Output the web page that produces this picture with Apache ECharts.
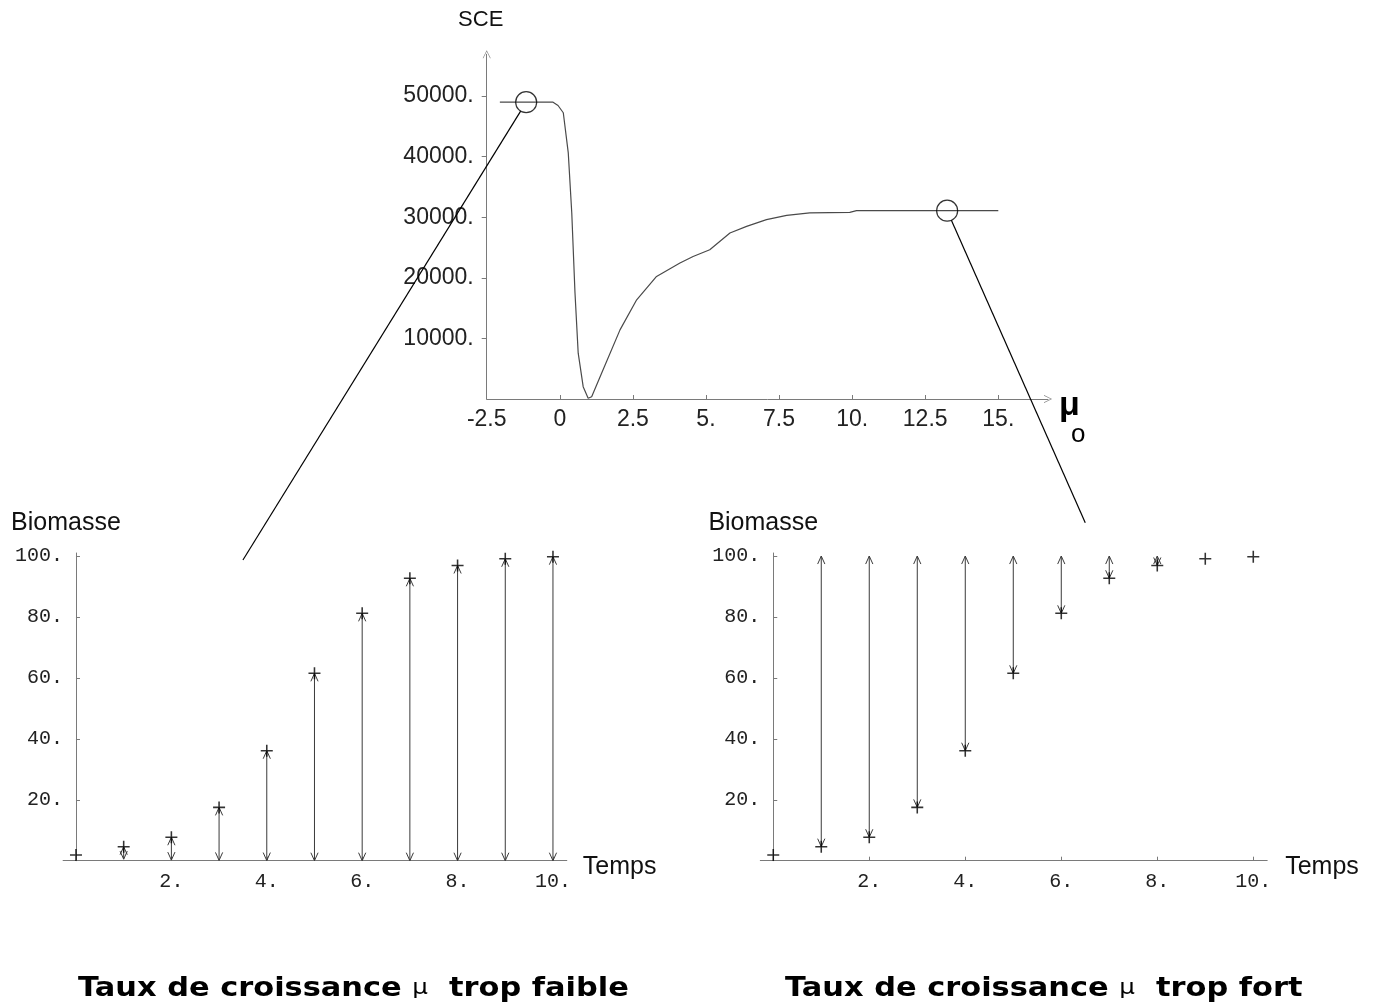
<!DOCTYPE html>
<html><head><meta charset="utf-8">
<script src="https://cdn.jsdelivr.net/npm/echarts@6/dist/echarts.min.js"></script>
<style>html,body{margin:0;padding:0;background:#fff}#c{width:1378px;height:1007px}</style>
</head><body><div id="c"></div>
<script>
// ---- Top chart: SCE as a function of mu0 ----
const muValues  = [-2.05, -1.0, -0.23, -0.06, 0.12, 0.29, 0.41, 0.52, 0.63, 0.80, 0.97, 1.09, 1.43, 2.06, 2.63, 3.31, 4.11, 4.56, 5.13, 5.82, 6.39, 7.07, 7.76, 8.55, 9.92, 10.15, 15.0];
const sceValues = [49000, 49000, 49000, 48450, 47250, 40630, 30710, 17530, 7560, 2030, 120, 380, 4250, 11410, 16370, 20230, 22440, 23530, 24640, 27400, 28490, 29600, 30310, 30710, 30810, 31090, 31090];
const circleMu  = [-1.15, 13.25];
const circleSce = [49000, 31090];
const muTicks = [-2.5, 0, 2.5, 5, 7.5, 10, 12.5, 15];
const muTickLabels = ['-2.5', '0', '2.5', '5.', '7.5', '10.', '12.5', '15.'];
const sceTicks = [10000, 20000, 30000, 40000, 50000];
const sceTickLabels = ['10000.', '20000.', '30000.', '40000.', '50000.'];

// ---- Bottom charts: biomass vs time ----
const times     = [0, 1, 2, 3, 4, 5, 6, 7, 8, 9, 10];
const observed  = [1.9, 4.6, 7.7, 17.5, 36.1, 61.5, 81.2, 92.7, 96.9, 99.1, 99.8];
const modelLow  = [1.9, 0.5, 0.2, 0.1, 0.05, 0, 0, 0, 0, 0, 0];
const modelHigh = [1.9, 100, 100, 100, 100, 100, 100, 100, 100, 100, 100];
const timeTicks = [2, 4, 6, 8, 10];
const timeTickLabels = ['2.', '4.', '6.', '8.', '10.'];
const bioTicks = [20, 40, 60, 80, 100];
const bioTickLabels = ['20.', '40.', '60.', '80.', '100.'];

// connector end points (in the bottom charts' coordinates)
const linkEndT = [3.5, 6.5];
const linkEndB = [98.7, 110.9];

function labelFor(ticks, labels) {
  return function (v) {
    for (let i = 0; i < ticks.length; i++) if (Math.abs(ticks[i] - v) < 1e-6) return labels[i];
    return '';
  };
}

const AX = '#7a7a7a';
const chev = 'path://M0,10 L5,0 L10,10 L9.2,10 L5,1.6 L0.8,10 Z';
const plusSym = 'path://M4.35,0 H5.65 V4.35 H10 V5.65 H5.65 V10 H4.35 V5.65 H0 V4.35 H4.35 Z';

const chart = echarts.init(document.getElementById('c'), null, {renderer: 'canvas'});

function bottomX(idx) {
  return {
    type: 'value', gridIndex: idx, min: -0.27, max: 10.29,
    name: 'Temps', nameLocation: 'end', nameGap: idx === 1 ? 16 : 18,
    nameTextStyle: {fontFamily: 'Liberation Sans', fontSize: 25, color: '#111', verticalAlign: 'top', lineHeight: 12},
    axisLine: {show: true, onZero: true, lineStyle: {color: AX, width: 1}},
    axisTick: {show: true, inside: true, length: 4, customValues: timeTicks, lineStyle: {color: AX}},
    axisLabel: {show: true, customValues: timeTicks, formatter: labelFor(timeTicks, timeTickLabels), margin: 11,
      fontFamily: 'Liberation Mono', fontSize: 20, color: '#222'},
    splitLine: {show: false}
  };
}
function bottomY(idx) {
  return {
    type: 'value', gridIndex: idx, min: 0, max: 101,
    name: 'Biomasse', nameLocation: 'end', nameGap: 17,
    nameTextStyle: {fontFamily: 'Liberation Sans', fontSize: 25, color: '#111', padding: [0, 20, 0, 0]},
    axisLine: {show: true, onZero: true, lineStyle: {color: AX, width: 1}},
    axisTick: {show: true, inside: true, length: 4, customValues: bioTicks, lineStyle: {color: AX}},
    axisLabel: {show: true, customValues: bioTicks, formatter: labelFor(bioTicks, bioTickLabels), margin: 0,
      fontFamily: 'Liberation Mono', fontSize: 20, color: '#222'},
    splitLine: {show: false}
  };
}

function arrowItem(params, api) {
  const t = api.value(0), a = api.value(1), b = api.value(2);
  const p1 = api.coord([t, a]);
  const p2 = api.coord([t, b]);
  const len = Math.abs(p2[1] - p1[1]);
  if (len < 5) return {type: 'group', children: []};
  const dir = p2[1] > p1[1] ? 1 : -1;
  const hl = 8, hw = 3.6;
  const st = {stroke: '#3a3a3a', lineWidth: 1, fill: null};
  return {
    type: 'group',
    children: [
      {type: 'line', shape: {x1: p1[0], y1: p1[1], x2: p2[0], y2: p2[1]}, style: st},
      {type: 'polyline', shape: {points: [[p2[0] - hw, p2[1] - dir * hl], [p2[0], p2[1]], [p2[0] + hw, p2[1] - dir * hl]]}, style: st},
      {type: 'polyline', shape: {points: [[p1[0] - hw, p1[1] + dir * hl], [p1[0], p1[1]], [p1[0] + hw, p1[1] + dir * hl]]}, style: st}
    ]
  };
}

const captionRich = {
  b: {fontFamily: 'DejaVu Sans', fontWeight: 'bold', fontSize: 26, fill: '#000'},
  m: {fontFamily: 'DejaVu Sans', fontSize: 21, fill: '#000'}
};

const option = {
  backgroundColor: '#fff',
  animation: false,
  grid: [
    {left: 486.7, top: 54.3, width: 561.3, height: 344.7},
    {left: 63.1, top: 553, width: 503.7, height: 307.7},
    {left: 760.3, top: 553, width: 506.9, height: 307.7}
  ],
  xAxis: [
    {
      type: 'value', gridIndex: 0, min: -2.5, max: 16.7,
      name: '{a|μ}\n{b|o}', nameLocation: 'end', nameGap: 11,
      nameTextStyle: {align: 'left', verticalAlign: 'middle', padding: [36, 0, 0, 0],
        rich: {a: {fontFamily: 'Liberation Sans', fontSize: 34, fontWeight: 'bold', color: '#000', lineHeight: 30},
               b: {fontFamily: 'Liberation Sans', fontSize: 26, color: '#000', lineHeight: 22, padding: [6, 0, 0, 12]}}},
      axisLine: {show: true, onZero: false, lineStyle: {color: AX, width: 1}, symbol: ['none', chev], symbolSize: [9, 8]},
      axisTick: {show: true, inside: true, length: 4, customValues: muTicks, lineStyle: {color: AX}},
      axisLabel: {show: true, customValues: muTicks, formatter: labelFor(muTicks, muTickLabels), margin: 9,
        fontFamily: 'Liberation Sans', fontSize: 23, color: '#222'},
      splitLine: {show: false}
    },
    bottomX(1), bottomX(2)
  ],
  yAxis: [
    {
      type: 'value', gridIndex: 0, min: 0, max: 56900,
      name: 'SCE', nameLocation: 'end', nameGap: 23,
      nameTextStyle: {fontFamily: 'Liberation Sans', fontSize: 22, color: '#111', padding: [0, 12, 0, 0]},
      axisLine: {show: true, onZero: false, lineStyle: {color: AX, width: 1}, symbol: ['none', chev], symbolSize: [9, 8]},
      axisTick: {show: true, inside: false, length: 5, customValues: sceTicks, lineStyle: {color: AX}},
      axisLabel: {show: true, customValues: sceTicks, formatter: labelFor(sceTicks, sceTickLabels), margin: 13,
        fontFamily: 'Liberation Sans', fontSize: 23, color: '#222'},
      splitLine: {show: false}
    },
    bottomY(1), bottomY(2)
  ],
  series: [
    {
      type: 'line', xAxisIndex: 0, yAxisIndex: 0, showSymbol: false, symbol: 'none',
      data: muValues.map((m, i) => [m, sceValues[i]]),
      lineStyle: {color: '#4a4a4a', width: 1.2}, z: 2
    },
    {
      type: 'scatter', xAxisIndex: 0, yAxisIndex: 0, symbol: 'circle', symbolSize: 21,
      data: circleMu.map((m, i) => [m, circleSce[i]]),
      itemStyle: {color: 'rgba(0,0,0,0)', borderColor: '#000', borderWidth: 1.2}, z: 3
    },
    {
      type: 'custom', xAxisIndex: 1, yAxisIndex: 1, renderItem: arrowItem,
      encode: {x: 0, y: [1, 2]},
      data: times.map((t, i) => [t, modelLow[i], observed[i]]), z: 2
    },
    {
      type: 'scatter', xAxisIndex: 1, yAxisIndex: 1, symbol: plusSym, symbolSize: 12,
      data: times.map((t, i) => [t, observed[i]]), itemStyle: {color: '#000'}, z: 3
    },
    {
      type: 'custom', xAxisIndex: 2, yAxisIndex: 2, renderItem: arrowItem,
      encode: {x: 0, y: [1, 2]},
      data: times.map((t, i) => [t, modelHigh[i], observed[i]]), z: 2
    },
    {
      type: 'scatter', xAxisIndex: 2, yAxisIndex: 2, symbol: plusSym, symbolSize: 12,
      data: times.map((t, i) => [t, observed[i]]), itemStyle: {color: '#000'}, z: 3
    }
  ],
  graphic: [
    {type: 'text', x: 78, y: 976, scaleX: 1.17, z: 10,
      style: {text: '{b|Taux de croissance }{m|μ}{b|  trop faible}', rich: captionRich}},
    {type: 'text', x: 785, y: 976, scaleX: 1.17, z: 10,
      style: {text: '{b|Taux de croissance }{m|μ}{b|  trop fort}', rich: captionRich}}
  ]
};
chart.setOption(option);

// connector lines from the circles to the bottom charts
const links = [];
for (let k = 0; k < 2; k++) {
  const c = chart.convertToPixel({gridIndex: 0}, [circleMu[k], circleSce[k]]);
  const e = chart.convertToPixel({gridIndex: k + 1}, [linkEndT[k], linkEndB[k]]);
  const dx = e[0] - c[0], dy = e[1] - c[1], L = Math.sqrt(dx * dx + dy * dy);
  const r = 10.5;
  links.push({type: 'line', z: 5, silent: true,
    shape: {x1: c[0] + dx / L * r, y1: c[1] + dy / L * r, x2: e[0], y2: e[1]},
    style: {stroke: '#000', lineWidth: 1.2}});
}
chart.setOption({graphic: option.graphic.concat(links)});
</script>
</body></html>
